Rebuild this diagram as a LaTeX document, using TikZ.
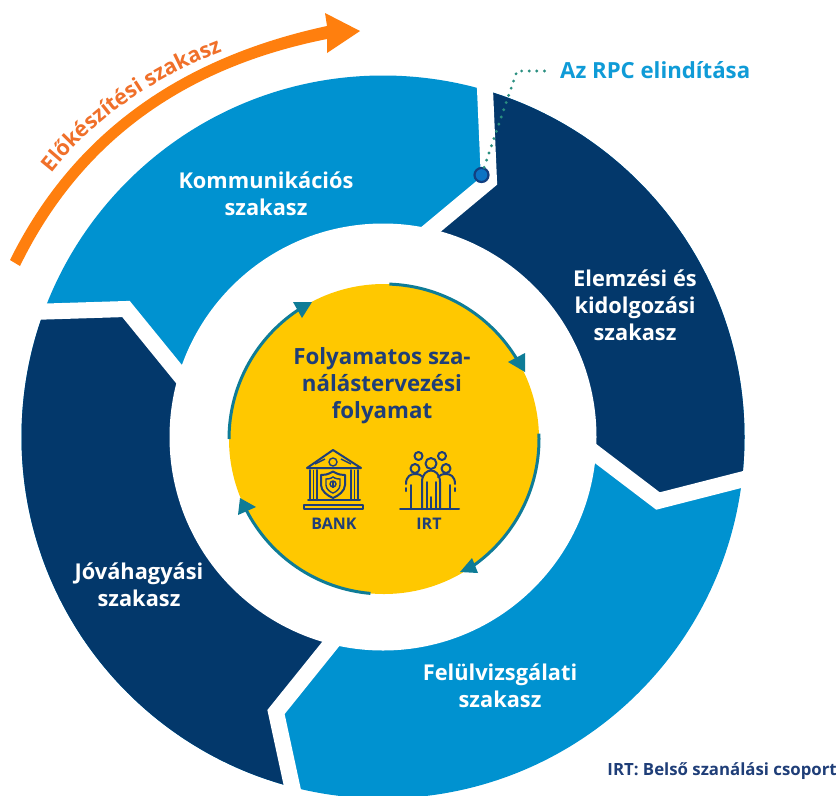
\documentclass[tikz,border=0pt]{standalone}
\usepackage{fontspec}
\setmainfont{Open Sans}
\usetikzlibrary{decorations.text,calc}
\definecolor{ringdark}{HTML}{03386B}
\definecolor{ringlight}{HTML}{0092D0}
\definecolor{coreyellow}{HTML}{FFC800}
\definecolor{arrteal}{HTML}{0E7C97}
\definecolor{orangeA}{HTML}{FF7F0E}
\definecolor{orangeB}{HTML}{F0702A}
\definecolor{inkblue}{HTML}{1F3E78}
\definecolor{rpcblue}{HTML}{0F9BD7}
\definecolor{dotgreen}{HTML}{2A8F80}
\definecolor{dotedge}{HTML}{123F80}
\definecolor{dotfill}{HTML}{0B74C4}
\tikzset{
  seglabel/.style={text=white,align=center,font=\fontsize{21.8}{27}\selectfont\bfseries},
  corelabel/.style={text=inkblue,align=center,font=\fontsize{22.3}{27}\selectfont\bfseries},
  iconlabel/.style={text=inkblue,font=\fontsize{16}{18}\selectfont\bfseries},
  chevron/.style={draw=white,line width=16pt,miter limit=10,line join=miter},
  cyclearc/.style={draw=arrteal,line width=3pt},
  cyclehead/.style={fill=arrteal},
  iconline/.style={draw=inkblue,line width=2pt,line cap=round,line join=round},
  iconthin/.style={draw=inkblue,line width=1.4pt},
}
\begin{document}
\begin{tikzpicture}[x=1pt,y=-1pt]
\useasboundingbox (0,0) rectangle (840,796);
\fill[white] (0,0) rectangle (840,796);
\coordinate (ringc) at (383,437);
\coordinate (corec) at (384,439);
% coloured ring
\begin{scope}
  \clip (ringc) circle[radius=361.5pt];
  \fill[ringlight] (0,0) rectangle (840,796);
  \fill[ringdark] (484,50) -- (489,181) -- (400,254) -- (500,400) -- (585,445) -- (658,501) -- (790,468) -- (850,100) -- (600,10) -- cycle;
  \fill[ringdark] (360,610) -- (340,632) -- (276,712) -- (297,810) -- (0,810) -- (0,313) -- (35,312) -- (126,309) -- (182,378) -- (200,400) -- cycle;
\end{scope}
% hole
\fill[white] (ringc) circle[radius=213.5pt];
% white separators
\draw[chevron] (484.5,78) -- (489,181) -- (423,236);
\draw[chevron] (30,312) -- (126,309) -- (183,379);
\draw[chevron] (342,630) -- (276,712) -- (295,800);
\draw[chevron] (583,444) -- (658,501) -- (752,477);
% core
\fill[coreyellow] (corec) circle[radius=155pt];
\draw[cyclearc] ($(corec)+(88:155pt)$) arc[start angle=88,end angle=31,radius=155pt];
\draw[cyclearc] ($(corec)+(2:155pt)$) arc[start angle=2,end angle=-57,radius=155pt];
\draw[cyclearc] ($(corec)+(-95:155pt)$) arc[start angle=-95,end angle=-153,radius=155pt];
\draw[cyclearc] ($(corec)+(180:155pt)$) arc[start angle=180,end angle=122,radius=155pt];
\fill[cyclehead] (508,362) -- (525,353) -- (525,372) -- cycle;
\fill[cyclehead] (460,572) -- (472,558) -- (478,573) -- cycle;
\fill[cyclehead] (238,515) -- (240,498) -- (256,507) -- cycle;
\fill[cyclehead] (293,302) -- (312,302) -- (302,318) -- cycle;
% orange arrow
\fill[orangeA] (10,260) .. controls (76,127) and (188,56) .. (327,26) -- (325,13) -- (360,31) -- (327,53) -- (327,39) .. controls (192,66) and (84,135) .. (20,266) -- cycle;
\path[decorate,decoration={text along path,text align=center,text color=orangeB,
  text={|\fontsize{21.5}{22}\selectfont\bfseries|Előkészítési szakasz}}]
  (44,183) .. controls (94,115) and (162,73) .. (234,47);
% labels
\node[seglabel] (komm) at (266,194) {Kommunikációs\\szakasz};
\node[seglabel] (elem) at (635,305) {Elemzési és\\kidolgozási\\szakasz};
\node[seglabel] (felul) at (500,686) {Felülvizsgálati\\szakasz};
\node[seglabel] (jova) at (139,585) {Jóváhagyási\\szakasz};
\node[corelabel] (core) at (382,386) {Folyamatos sza-\\nálástervezési\\folyamat};
\node[iconlabel] (bank) at (334,524) {BANK};
\node[iconlabel] (irt) at (429,524) {IRT};
\node[anchor=west,inner sep=0pt,text=rpcblue,font=\fontsize{22.2}{24}\selectfont\bfseries] (rpc) at (560,70) {Az RPC elindítása};
\node[anchor=east,inner sep=0pt,text=inkblue,font=\fontsize{16.8}{18}\selectfont\bfseries] (legend) at (837,771) {IRT: Belső szanálási csoport};
% RPC marker
\node[circle,draw=dotedge,fill=dotfill,line width=2.2pt,minimum size=14pt,inner sep=0pt] (dot) at (481.5,175) {};
\coordinate (elbow) at (517,71);
\coordinate (lineend) at (546,71);
\draw[draw=dotgreen,line width=3.2pt,line cap=round,dash pattern=on 0pt off 7.6pt] (dot) -- (elbow) -- (lineend);
% bank icon
\draw[iconline] (307,468) -- (333,450) -- (361,468) -- cycle;
\draw[iconthin] (333,462) circle[radius=4pt];
\draw[iconthin] (315,464) -- (325,459) (341,459) -- (351,464);
\draw[iconline] (310,470) -- (310,500) (358,470) -- (358,500);
\draw[iconline] (317,470) -- (317,500) (351,470) -- (351,500);
\draw[iconthin] (313.5,470) -- (313.5,500) (354.5,470) -- (354.5,500);
\draw[iconline] (308,500) -- (360,500);
\draw[iconline] (304,504.5) -- (363,504.5) -- (363,509) -- (304,509) -- cycle;
\draw[iconline] (333,471.5) .. controls (327,475) and (324,475) .. (321,475) -- (321,485) .. controls (321,491) and (328,496) .. (333,498) .. controls (338,496) and (345,491) .. (345,485) -- (345,475) .. controls (342,475) and (339,475) .. (333,471.5) -- cycle;
\draw[iconthin] (333,477) .. controls (330,479) and (328,479) .. (326,479) -- (326,485) .. controls (326,489) and (330,492) .. (333,493) .. controls (336,492) and (340,489) .. (340,485) -- (340,479) .. controls (338,479) and (336,479) .. (333,477) -- cycle;
\draw[iconthin] (333,482) -- (333,488);
\draw[iconthin] (333,484) circle[radius=3pt];
% people icon
\draw[iconline] (400,509) -- (459,509);
\draw[iconline] (418.5,456) circle[radius=4pt];
\draw[iconline] (442,456) circle[radius=4pt];
\draw[iconline] (431,463.5) circle[radius=5.5pt];
\draw[iconline] (415,468.5) circle[radius=4.5pt];
\draw[iconline] (446,468.5) circle[radius=4.5pt];
\draw[iconline] (406,484) .. controls (406,476) and (411,474) .. (415,474) .. controls (419,474) and (421,475) .. (423,477);
\draw[iconline] (455,484) .. controls (455,476) and (450,474) .. (446,474) .. controls (442,474) and (440,475) .. (438,477);
\draw[iconline] (422,509) -- (422,482) .. controls (422,474) and (427,470.5) .. (431,470.5) .. controls (435,470.5) and (440,474) .. (440,482) -- (440,509);
\draw[iconline] (406,488) -- (406,491) (455,488) -- (455,491);
\draw[iconline] (411,485) -- (411,509) (450,485) -- (450,509);
\draw[iconline] (426.5,482) -- (426.5,509) (435.5,482) -- (435.5,509);
\draw[iconline] (431,497) -- (431,509);
\end{tikzpicture}
\end{document}
